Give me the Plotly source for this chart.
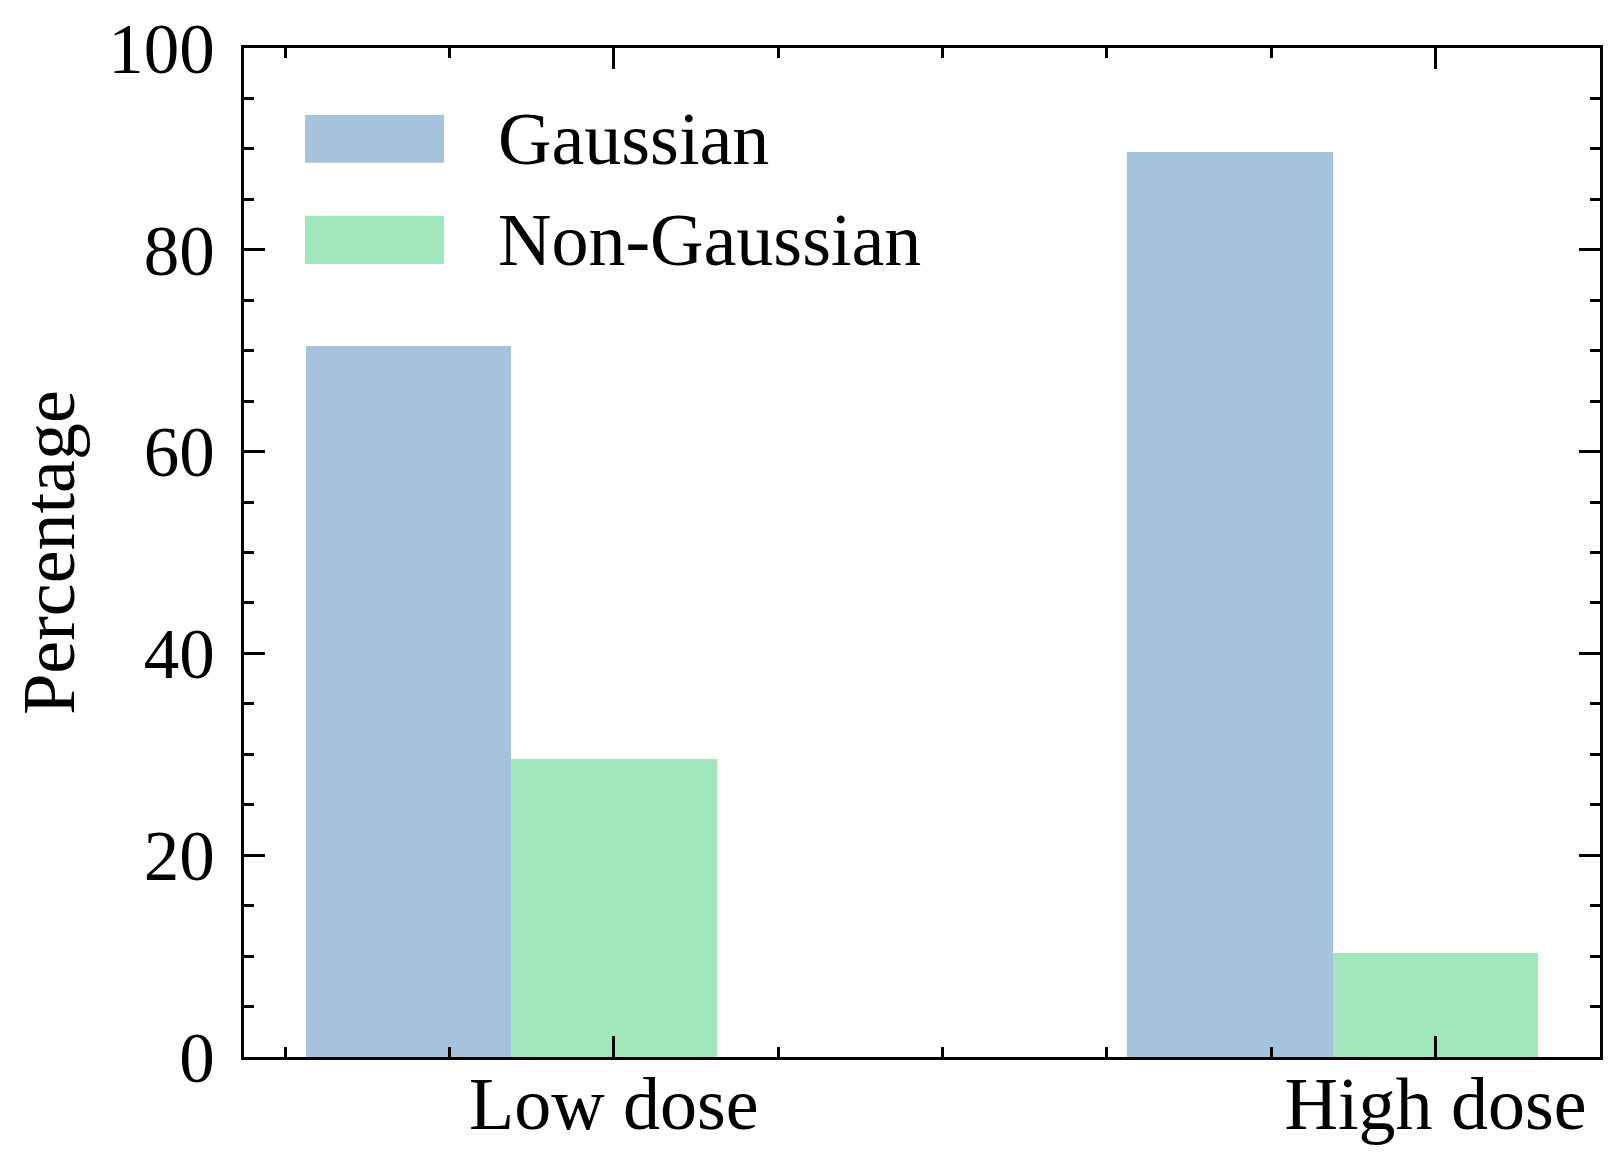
import numpy as np
import plotly.graph_objects as go

categories = ["Low dose", "High dose"]
series_names = ["Gaussian", "Non-Gaussian"]
gaussian = [70.5, 89.7]
non_gaussian = [29.5, 10.3]
y_ticks = [0, 20, 40, 60, 80, 100]
colors = ["#a6c3dd", "#a2e6bb"]

FONT = "Liberation Serif"
FS = 71
FS_TEXT = 74
bar_w = 0.25
idx = np.arange(len(categories))

fig = go.Figure()
for k, (name, vals) in enumerate(zip(series_names, [gaussian, non_gaussian])):
    fig.add_trace(go.Bar(
        x=idx + (k - 1) * bar_w, y=vals, width=bar_w, name=name,
        marker=dict(color=colors[k], line=dict(width=0)), showlegend=False,
    ))

axis_common = dict(
    showline=True, linecolor="black", linewidth=3, mirror="ticks",
    ticks="inside", tickcolor="black", tickwidth=3, ticklen=21,
    showgrid=False, zeroline=False, automargin=False,
)

fig.update_xaxes(
    range=[-0.45, 1.2], tickmode="array", tickvals=list(idx), ticktext=categories,
    minor=dict(dtick=0.2, tick0=0, ticks="inside", ticklen=10, tickwidth=3, tickcolor="black", showgrid=False),
    ticklabelstandoff=-20,
    tickfont=dict(family=FONT, size=FS_TEXT, color="black"),
    **axis_common,
)
fig.update_yaxes(
    range=[0, 100], tickmode="array", tickvals=y_ticks,
    minor=dict(dtick=5, tick0=0, ticks="inside", ticklen=10, tickwidth=3, tickcolor="black", showgrid=False),
    ticklabelstandoff=12,
    tickfont=dict(family=FONT, size=FS, color="black"),
    title=dict(text="Percentage", font=dict(family=FONT, size=FS_TEXT, color="black"), standoff=24),
    **axis_common,
)

# legend drawn as patches + text (matplotlib-style large patches)
leg_x0, leg_x1, txt_x = 0.045, 0.1475, 0.186
leg_rows = [(0.8862, 0.9337), (0.786, 0.8338)]
for k, name in enumerate(series_names):
    y0, y1 = leg_rows[k]
    fig.add_shape(type="rect", xref="paper", yref="paper", x0=leg_x0, x1=leg_x1, y0=y0, y1=y1,
                  fillcolor=colors[k], line=dict(width=0), layer="above")
    fig.add_annotation(xref="paper", yref="paper", x=txt_x, y=(y0 + y1) / 2, text=name,
                       showarrow=False, xanchor="left", yanchor="middle",
                       font=dict(family=FONT, size=FS_TEXT, color="black"))

fig.update_layout(
    width=1623, height=1168,
    margin=dict(l=236, r=31, t=40, b=119),
    barmode="overlay", bargap=0,
    plot_bgcolor="white", paper_bgcolor="white",
    font=dict(family=FONT, size=FS, color="black"),
)

fig.write_html("out.html")
